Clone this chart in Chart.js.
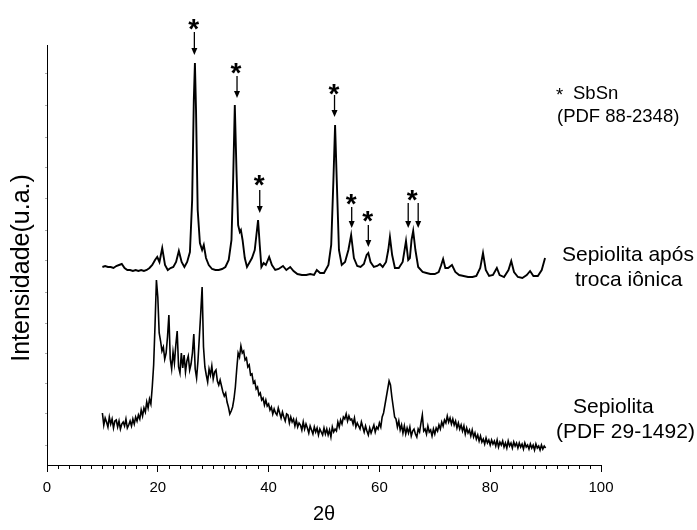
<!DOCTYPE html>
<html>
<head>
<meta charset="utf-8">
<script src="https://cdn.jsdelivr.net/npm/chart.js@4.4.1/dist/chart.umd.min.js"></script>
<style>
  html, body { margin: 0; padding: 0; background: #fff; }
  #wrap { width: 697px; height: 530px; }
</style>
</head>
<body>
<div id="wrap"><canvas id="xrd" width="697" height="530"></canvas></div>
<script>
// 2theta (deg) and intensity (a.u.)
var exchangedX = [10, 10.5, 11, 11.5, 12, 12.5, 13, 13.5, 14, 14.5, 15, 15.5, 16, 16.5, 17, 17.5, 18, 18.5, 19, 19.5,
  19.9, 20.3, 20.8, 21.3, 21.8, 22.3, 22.8, 23.3, 23.8, 24.3, 24.8, 25.3, 25.8, 26.2, 26.5, 26.7, 26.9, 27.2, 27.6, 28.0,
  28.3, 28.7, 29.2, 29.8, 30.4, 31.0, 31.6, 32.2, 32.8, 33.3, 33.6, 33.9, 34.2, 34.5, 34.8, 35.0, 35.3, 35.7, 36.1, 36.6,
  37.0, 37.5, 37.8, 38.1, 38.4, 38.7, 39.1, 39.5, 40.1, 40.6, 41.2, 41.8, 42.6, 43.2, 43.9, 44.5, 45.2, 46.0, 46.8, 47.5,
  48.2, 48.7, 49.3, 50.0, 50.8, 51.3, 51.7, 52.0, 52.3, 52.7, 53.2, 53.8, 54.4, 54.9, 55.4, 56.0, 56.6, 57.2, 57.7, 58.0,
  58.4, 59.0, 59.6, 60.1, 60.6, 61.2, 61.6, 61.9, 62.3, 62.8, 63.5, 64.2, 64.8, 65.2, 65.5, 65.8, 66.1, 66.5, 67.0, 67.8,
  68.5, 69.2, 70.0, 70.7, 71.1, 71.5, 71.9, 72.4, 73.1, 73.7, 74.4, 75.2, 76.0, 76.8, 77.5, 78.2, 78.7, 79.2, 79.8, 80.5,
  81.2, 81.7, 82.5, 83.3, 83.8, 84.3, 85.0, 85.8, 86.6, 87.2, 87.8, 88.6, 89.3, 89.9];
var exchangedY = [198, 199, 198, 198, 197, 199, 200, 201, 197, 195, 195, 194, 195, 194, 195, 194, 195, 197, 200, 205,
  208, 203, 217, 200, 195, 197, 198, 203, 214, 203, 198, 203, 213, 265, 365, 402, 355, 255, 222, 215,
  220, 207, 200, 196, 195, 195, 196, 198, 205, 225, 285, 360, 295, 240, 233, 235, 225, 207, 198, 203,
  207, 215, 230, 245, 220, 198, 202, 200, 208, 200, 195, 196, 199, 195, 198, 194, 191, 190, 190, 191,
  190, 195, 192, 192, 200, 220, 285, 340, 285, 215, 200, 203, 215, 230, 207, 199, 198, 201, 210, 212,
  203, 198, 199, 201, 198, 203, 215, 228, 210, 197, 197, 203, 224, 205, 207, 225, 234, 215, 198, 193,
  192, 191, 191, 193, 199, 206, 197, 197, 200, 193, 190, 189, 188, 188, 189, 197, 212, 195, 189, 190,
  197, 190, 188, 195, 204, 193, 188, 187, 190, 194, 189, 189, 195, 207];

// Sepiolita, sampled every 0.25 deg from 10 to 90
var sepioliteStart = 10, sepioliteStep = 0.25;
var sepioliteY = [
  52, 40, 47, 43, 38, 48, 41, 46, 37, 44, 45, 38, 44, 36, 41, 43, 39, 46, 37, 40,           // 10
  44, 39, 46, 41, 48, 44, 50, 46, 55, 49, 57, 53, 63, 57, 66, 61, 78, 100, 140, 185,        // 15
  168, 132, 124, 114, 118, 106, 112, 128, 150, 106, 96, 113, 102, 120, 134, 98, 92, 112, 97, 110, // 20
  93, 104, 109, 95, 101, 112, 131, 96, 87, 104, 128, 152, 178, 118, 98, 90, 83, 96, 90, 99, // 25
  86, 93, 95, 84, 80, 85, 79, 73, 69, 72, 63, 58, 51, 54, 58, 66, 78, 96, 112, 108,         // 30
  119, 112, 114, 105, 107, 98, 100, 90, 91, 82, 84, 76, 78, 70, 72, 65, 67, 60, 65, 59,     // 35
  61, 55, 58, 51, 56, 52, 50, 57, 52, 47, 53, 48, 44, 51, 50, 42, 48, 43, 46, 39,           // 40
  45, 38, 42, 40, 35, 43, 36, 41, 37, 32, 39, 35, 31, 38, 33, 37, 30, 36, 33, 30,           // 45
  37, 31, 36, 30, 35, 28, 38, 33, 36, 34, 43, 38, 45, 41, 48, 46, 51, 44, 49, 45,           // 50
  46, 41, 47, 38, 42, 39, 36, 43, 38, 33, 39, 34, 30, 37, 32, 36, 40, 33, 38, 36,           // 55
  42, 38, 48, 52, 60, 68, 76, 84, 80, 68, 58, 48, 46, 38, 44, 35, 40, 32, 39, 31,           // 60
  37, 32, 38, 29, 34, 36, 31, 28, 36, 33, 42, 50, 34, 36, 31, 39, 33, 35, 29, 36,           // 65
  31, 37, 34, 40, 36, 43, 39, 45, 42, 49, 43, 47, 41, 46, 40, 44, 37, 42, 36, 40,           // 70
  34, 39, 31, 37, 32, 35, 29, 35, 28, 32, 26, 30, 24, 29, 23, 26, 21, 27, 22, 25,           // 75
  20, 25, 21, 24, 19, 25, 18, 23, 20, 24, 18, 22, 17, 24, 19, 22, 17, 23, 19, 22,           // 80
  17, 22, 18, 21, 16, 22, 18, 20, 16, 21, 17, 20, 15, 21, 17, 19, 15, 20, 16, 19,           // 85
  17                                                                                          // 90
];

// SbSn markers: star position and arrows (2theta, intensity)
var starX = [26.5, 34.1, 38.3, 51.8, 54.9, 57.9, 65.9];
var starY = [443, 399, 287, 378, 268, 251, 272];
var arrowX = [26.6, 34.3, 38.4, 51.9, 55.0, 58.0, 65.2, 67.0];
var arrowTop = [433, 389, 275, 370, 258, 240, 262, 262];
var arrowTip = [410, 367, 252, 348, 237, 218, 237, 237];

var yTicks = [20, 52, 82, 112, 142, 173, 205, 235, 267, 298, 328, 360, 392];

var FONT = "'Liberation Sans', Arial, sans-serif";

function toPoints(xs, ys) {
  return xs.map(function (x, i) { return { x: x, y: ys[i] }; });
}
var sepioliteX = sepioliteY.map(function (v, i) { return sepioliteStart + i * sepioliteStep; });

var decorations = {
  id: 'decorations',
  afterDraw: function (chart) {
    var ctx = chart.ctx, xs = chart.scales.x, ys = chart.scales.y;
    ctx.save();
    ctx.strokeStyle = '#000';
    ctx.fillStyle = '#000';
    // minor ticks on x axis
    ctx.lineWidth = 1;
    for (var v = 2; v < 100; v += 2) {
      if (v % 20 === 0) { continue; }
      var px = Math.round(xs.getPixelForValue(v)) + 0.5;
      ctx.beginPath();
      ctx.moveTo(px, ys.bottom);
      ctx.lineTo(px, ys.bottom + 4);
      ctx.stroke();
    }
    // y title
    ctx.save();
    ctx.translate(22, 268);
    ctx.rotate(-Math.PI / 2);
    ctx.font = '25px ' + FONT;
    ctx.textAlign = 'center';
    ctx.textBaseline = 'middle';
    ctx.fillText('Intensidade(u.a.)', 0, 0);
    ctx.restore();
    // stars
    ctx.font = 'bold 28px ' + FONT;
    ctx.textAlign = 'center';
    ctx.textBaseline = 'alphabetic';
    starX.forEach(function (sx, i) {
      ctx.fillText('*', xs.getPixelForValue(sx), ys.getPixelForValue(starY[i]) + 16);
    });
    // arrows
    ctx.lineWidth = 1.3;
    arrowX.forEach(function (ax, i) {
      var x = xs.getPixelForValue(ax);
      var y0 = ys.getPixelForValue(arrowTop[i]);
      var y1 = ys.getPixelForValue(arrowTip[i]);
      ctx.beginPath();
      ctx.moveTo(x, y0);
      ctx.lineTo(x, y1 - 6);
      ctx.stroke();
      ctx.beginPath();
      ctx.moveTo(x - 3, y1 - 7);
      ctx.lineTo(x + 3, y1 - 7);
      ctx.lineTo(x, y1);
      ctx.closePath();
      ctx.fill();
    });
    // labels
    ctx.textAlign = 'left';
    ctx.textBaseline = 'middle';
    ctx.font = '18.5px ' + FONT;
    ctx.fillText('*', 556, 96);
    ctx.fillText('SbSn', 573, 94);
    ctx.fillText('(PDF 88-2348)', 557, 117);
    ctx.font = '21px ' + FONT;
    ctx.fillText('Sepiolita após', 562, 255);
    ctx.fillText('troca iônica', 575, 280);
    ctx.fillText('Sepiolita', 573, 407);
    ctx.fillText('(PDF 29-1492)', 556, 432);
    ctx.restore();
  }
};

new Chart(document.getElementById('xrd'), {
  type: 'line',
  data: {
    datasets: [
      { label: 'Sepiolita após troca iônica', data: toPoints(exchangedX, exchangedY),
        borderColor: '#000', borderWidth: 1.9, pointRadius: 0, tension: 0, fill: false },
      { label: 'Sepiolita', data: toPoints(sepioliteX, sepioliteY),
        borderColor: '#000', borderWidth: 1.6, pointRadius: 0, tension: 0, fill: false }
    ]
  },
  options: {
    responsive: false,
    animation: false,
    layout: { padding: { top: 45, right: 96, left: 0, bottom: 0 } },
    plugins: { legend: { display: false }, tooltip: { enabled: false } },
    scales: {
      x: {
        type: 'linear', min: 0, max: 100,
        border: { color: '#000', width: 1 },
        grid: { drawOnChartArea: false, color: '#000', tickLength: 7 },
        ticks: { stepSize: 20, color: '#000', font: { family: FONT, size: 15 }, padding: 7, maxRotation: 0 },
        title: { display: true, text: '2θ', color: '#000', font: { family: FONT, size: 20 }, padding: { top: 4, bottom: 4 } },
        afterFit: function (s) { s.height = 65; }
      },
      y: {
        min: 0, max: 420,
        afterBuildTicks: function (s) { s.ticks = yTicks.map(function (v) { return { value: v }; }); },
        border: { color: '#000', width: 1 },
        grid: { drawOnChartArea: false, color: '#aaa', tickLength: 2 },
        ticks: { display: false },
        afterFit: function (s) { s.width = 47; }
      }
    }
  },
  plugins: [decorations]
});
</script>
</body>
</html>
